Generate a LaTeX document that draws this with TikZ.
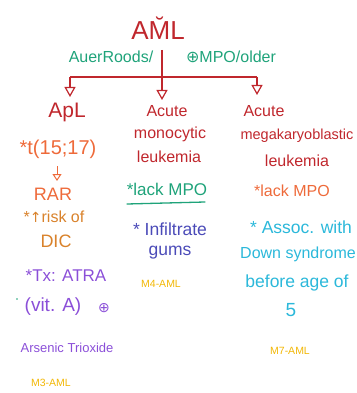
\documentclass[tikz,border=0pt]{standalone}
\usepackage{fontspec}
\setmainfont{Liberation Sans}
\newfontfamily\symf{DejaVu Sans}
\usetikzlibrary{arrows.meta}
\definecolor{cred}{HTML}{C0272D}
\definecolor{cgreen}{HTML}{1FA37A}
\definecolor{corange}{HTML}{EE6A3A}
\definecolor{cbrown}{HTML}{D9822B}
\definecolor{cpurple}{HTML}{8B4FD8}
\definecolor{cblue}{HTML}{4B4BB8}
\definecolor{ccyan}{HTML}{2BB8DA}
\definecolor{cyellow}{HTML}{F2B705}
\tikzset{
  txt/.style={inner sep=0pt, font=\fontsize{16}{18}\selectfont},
  small/.style={inner sep=0pt, font=\fontsize{10.5}{12}\selectfont, text=cyellow},
  link/.style={draw=cred, line width=1.3pt, -{Triangle[open, width=11pt, length=10pt, line width=1.2pt]}},
  plain/.style={draw=cred, line width=1.3pt},
}
\begin{document}
\begin{tikzpicture}[x=1pt, y=-1pt]
\useasboundingbox (0,0) rectangle (356,393);
% title
\node[inner sep=0pt, text=cred, font=\fontsize{26}{30}\selectfont] (aml) at (158,28) {A\u{M}L};
\node[txt, text=cgreen] (auer) at (111,57) {AuerRoods/};
\node[txt, text=cgreen] (mpo) at (231,57) {{\symf ⊕}MPO/older};
\coordinate (top) at (162,50);
\coordinate (split) at (162,77);
\coordinate (tipL) at (70,97);
\coordinate (tipM) at (162,100);
\coordinate (tipR) at (257,95);
% left column
\node[inner sep=0pt, text=cred, font=\fontsize{21}{24}\selectfont] (apl) at (67,112) {ApL};
\node[inner sep=0pt, text=corange, font=\fontsize{20}{22}\selectfont] (t1517) at (58,149) {*t(15;17)};
\coordinate (sa) at (57,166);
\coordinate (sb) at (57,181);
\node[inner sep=0pt, text=corange, font=\fontsize{18}{20}\selectfont] (rar) at (53,194) {RAR};
\node[txt, text=cbrown] (risk) at (54,217) {*{\symf\fontsize{14}{16}\selectfont ↑}risk of};
\node[inner sep=0pt, text=cbrown, font=\fontsize{18}{20}\selectfont] (dic) at (56,241) {DIC};
\node[inner sep=0pt, text=cpurple, font=\fontsize{17}{19}\selectfont] (tx) at (66,276) {*Tx: ATRA};
\node[inner sep=0pt, text=cpurple, font=\fontsize{19}{21}\selectfont] (vit) at (53,307) {(vit. A)};
\node[inner sep=0pt, text=cpurple, font=\symf\fontsize{14}{15}\selectfont] (plus) at (104,308) {⊕};
\fill[cgreen] (17,299) circle (0.9);
\node[inner sep=0pt, text=cpurple, font=\fontsize{13}{15}\selectfont] (ars) at (67,348) {Arsenic Trioxide};
\node[small] (m3) at (51,383) {M3-AML};
% middle column
\node[txt, text=cred] (acute1) at (167,111) {Acute};
\node[txt, text=cred] (mono) at (170,134) {monocytic};
\node[txt, text=cred] (leuk1) at (169,157) {leukemia};
\node[inner sep=0pt, text=cgreen, font=\fontsize{17}{19}\selectfont] (lack1) at (167,189) {*lack MPO};
\coordinate (ul1) at (127,204);
\coordinate (ul2) at (205,202);
\draw[cgreen, line width=1.3pt, line cap=round] (ul1) -- (ul2);
\node[inner sep=0pt, text=cblue, font=\fontsize{17.5}{19}\selectfont] (infil) at (170,229) {* Infiltrate};
\node[inner sep=0pt, text=cblue, font=\fontsize{17.5}{19}\selectfont] (gums) at (170,253) {gums};
\node[small] (m4) at (161,284) {M4-AML};
% right column
\node[txt, text=cred] (acute2) at (264,111) {Acute};
\node[inner sep=0pt, text=cred, font=\fontsize{14.5}{17}\selectfont] (mega) at (297,136) {megakaryoblastic};
\node[txt, text=cred] (leuk2) at (297,161) {leukemia};
\node[txt, text=corange] (lack2) at (292,191) {*lack MPO};
\node[inner sep=0pt, text=ccyan, font=\fontsize{17.5}{19}\selectfont] (assoc) at (301,227) {* Assoc. with};
\node[txt, text=ccyan] (down) at (298,254) {Down syndrome};
\node[inner sep=0pt, text=ccyan, font=\fontsize{17.5}{19}\selectfont] (before) at (297,283) {before age of};
\node[inner sep=0pt, text=ccyan, font=\fontsize{19}{21}\selectfont] (five) at (291,310) {5};
\node[small] (m7) at (290,351) {M7-AML};
% connectors
\draw[link] (top) -- (tipM);
\draw[plain] (tipL |- split) -- (tipR |- split);
\draw[link] (tipL |- split) -- (tipL);
\draw[link] (tipR |- split) -- (tipR);
\draw[draw=corange, line width=1pt, -{Triangle[open, width=9pt, length=7pt, line width=1pt]}] (sa) -- (sb);
\end{tikzpicture}
\end{document}
